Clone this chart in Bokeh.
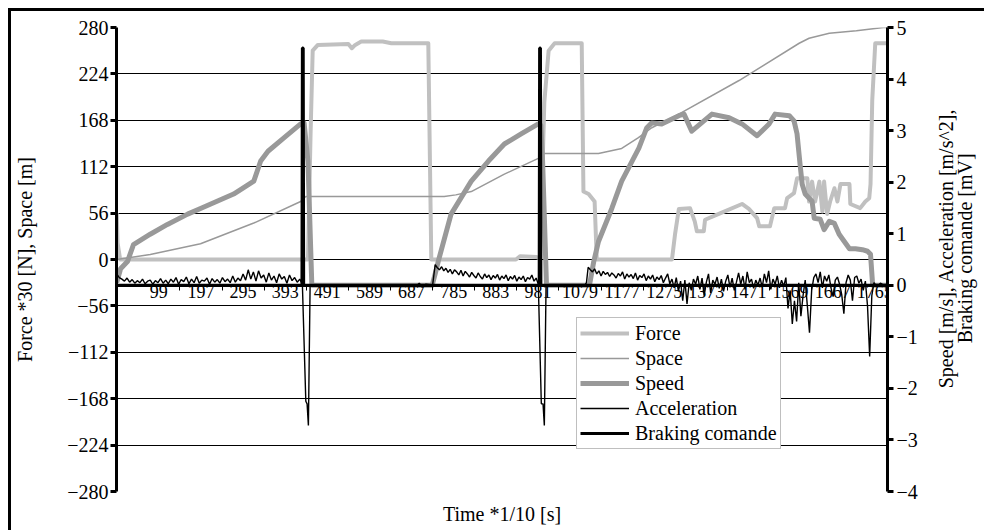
import math
from bokeh.plotting import figure
from bokeh.layouts import row
from bokeh.models import (Range1d, LinearAxis, FixedTicker, Legend, LegendItem,
                          Title, Grid)
from bokeh.core.properties import value
from bokeh.embed import file_html
from bokeh.resources import INLINE

# ---------------- data ----------------
n_samples = 1794
x_ticks = [99, 197, 295, 393, 491, 589, 687, 785, 883, 981, 1079, 1177,
           1275, 1373, 1471, 1569, 1667, 1765]
left_ticks = [-280, -224, -168, -112, -56, 0, 56, 112, 168, 224, 280]
right_ticks = [-4, -3, -2, -1, 0, 1, 2, 3, 4, 5]

# Force *30 [N] (left axis)
force_t = [1, 3, 9, 446, 452, 457, 469, 540, 548, 556, 570, 620, 640, 726, 733,
           930, 940, 978, 986, 996, 1006, 1020, 1083, 1087, 1099, 1113, 1118,
           1293, 1300, 1309, 1335, 1346, 1351, 1367, 1370, 1402, 1456, 1472,
           1491, 1496, 1521, 1531, 1556, 1561, 1577, 1584, 1608, 1612, 1619,
           1626, 1636, 1643, 1647, 1654, 1661, 1671, 1678, 1685, 1706, 1708,
           1731, 1743, 1752, 1755, 1759, 1766, 1794]
force_v = [56, 20, 0, 0, 150, 252, 259, 260, 255, 259, 263, 263, 261, 261, 0,
           0, 4, 3, 1, 190, 252, 261, 261, 82, 79, 70, 0,
           0, 30, 61, 62, 46, 34, 34, 48, 55, 67, 61,
           50, 40, 40, 62, 62, 74, 80, 98, 98, 70, 94,
           70, 94, 58, 94, 55, 70, 86, 70, 91, 91, 67,
           62, 70, 74, 91, 192, 261, 261]

# Space [m] (left axis)
space_t = [1, 79, 196, 320, 429, 441, 763, 790, 826, 903, 982, 994, 1122,
           1176, 1215, 1246, 1311, 1449, 1589, 1612, 1659, 1722, 1785, 1794]
space_v = [0, 6, 19, 44, 70, 76, 76, 78, 82, 103, 122, 128, 128,
           134, 147, 159, 176, 216, 261, 267, 273, 276, 280, 280]

# Speed [m/s] (right axis)
speed_t = [1, 10, 26, 40, 79, 119, 166, 196, 273, 320, 336, 353, 390, 429,
           437, 446, 455, 735, 745, 749, 779, 826, 866, 903, 943, 982, 988,
           992, 1001, 1101, 1111, 1122, 1153, 1176, 1216, 1234, 1246, 1269,
           1309, 1321, 1339, 1386, 1426, 1456, 1491, 1519, 1533, 1566, 1577,
           1584, 1591, 1596, 1603, 1619, 1624, 1638, 1647, 1659, 1671, 1682,
           1694, 1706, 1720, 1736, 1748, 1755, 1760, 1794]
speed_v = [0.05, 0.32, 0.46, 0.79, 0.99, 1.18, 1.38, 1.49, 1.77, 2.02, 2.41,
           2.60, 2.86, 3.13, 3.15, 2.40, 0.0, 0.0, 0.32, 0.46, 1.38, 2.02,
           2.41, 2.74, 2.94, 3.13, 3.10, 2.40, 0.0, 0.0, 0.46, 0.85, 1.49,
           2.02, 2.66, 3.05, 3.15, 3.13, 3.29, 3.32, 2.99, 3.32, 3.25, 3.13,
           2.90, 3.13, 3.32, 3.29, 3.19, 2.94, 2.35, 1.96, 1.77, 1.63, 1.30,
           1.28, 1.08, 1.24, 1.20, 0.99, 0.85, 0.71, 0.71, 0.69, 0.66, 0.60,
           0.0, 0.0]

# Braking comande [mV] (right axis)
brake_t = [1, 432, 433, 435, 436, 984, 985, 987, 988, 1794]
brake_v = [0, 0, 4.6, 4.6, 0, 0, 4.6, 4.6, 0, 0]

# Acceleration [m/s^2] (right axis), read in pieces
acc_a_start, acc_a_step = 1, 6
acc_a_vals = [0.22, 0.15, 0.12, 0.08, 0.14, 0.06, 0.11, 0.04, 0.09, 0.05,
              0.12, 0.03, 0.08, 0.10, 0.02, 0.09, 0.05, 0.13, 0.04, 0.10,
              0.03, 0.12, 0.06, 0.15, 0.02, 0.11, 0.07, 0.16, 0.03, 0.12,
              0.05, 0.17, 0.04, 0.10, 0.08, 0.14, 0.02, 0.13, 0.06, 0.11,
              0.04, 0.15, 0.07, 0.12, 0.05, 0.18, 0.06, 0.14, 0.09, 0.22,
              0.10, 0.30, 0.12, 0.26, 0.08, 0.28, 0.14, 0.20, 0.06, 0.24,
              0.10, 0.18, 0.05, 0.22, 0.12, 0.17, 0.04, 0.20, 0.09, 0.15,
              0.06, 0.12]
acc_spike1_t = [433, 441, 444, 447, 451, 700, 705, 712, 720, 736]
acc_spike1_v = [0.02, -2.25, -2.30, -2.72, 0.0, 0.0, 0.04, -0.04, 0.02, 0.0]
acc_b_start, acc_b_step = 742, 5
acc_b_vals = [0.40, 0.34, 0.30, 0.36, 0.28, 0.33, 0.25, 0.31, 0.22, 0.30,
              0.26, 0.20, 0.29, 0.18, 0.27, 0.22, 0.16, 0.25, 0.19, 0.14,
              0.24, 0.17, 0.12, 0.22, 0.15, 0.20, 0.11, 0.19, 0.14, 0.21,
              0.10, 0.18, 0.13, 0.20, 0.09, 0.17, 0.12, 0.19, 0.08, 0.16,
              0.11, 0.18, 0.07, 0.15, 0.12, 0.20, 0.08, 0.14]
acc_spike2_t = [982, 989, 993, 996, 1000, 1090, 1094]
acc_spike2_v = [0.02, -2.30, -2.30, -2.72, 0.0, 0.0, 0.05]
acc_c_start, acc_c_step = 1098, 5
acc_c_vals = [0.35, 0.30, 0.26, 0.32, 0.22, 0.28, 0.18, 0.27, 0.21, 0.25,
              0.17, 0.24, 0.20, 0.14, 0.23, 0.18, 0.26, 0.12, 0.22, 0.16,
              0.21, 0.13, 0.24, 0.10, 0.19, 0.15, 0.22, 0.09, 0.18, 0.12,
              0.20, 0.07, 0.16, 0.11, 0.19, 0.05, 0.14, 0.22, 0.03, 0.12,
              -0.05, 0.15, -0.12, 0.08, -0.30, 0.10, -0.36, 0.05, -0.10, 0.12,
              0.02, 0.18, -0.08, 0.14, -0.20, 0.06, 0.22, -0.15, 0.10, 0.02,
              0.16, -0.06, 0.12, -0.12, 0.08, 0.20, -0.04, 0.14, -0.10, 0.06,
              0.24, 0.02, 0.18, -0.08, 0.26, 0.05, 0.12, -0.06, 0.10, 0.00,
              0.14, -0.04, 0.22, 0.05, 0.28, -0.08, 0.12, 0.02, 0.18, -0.05,
              0.10, -0.02, 0.15, -0.45, -0.10, -0.75, -0.30, -0.70, 0.05, -0.60,
              -0.20, 0.10, -0.40, -0.92, -0.10, 0.15, 0.22, 0.05, 0.26, -0.05,
              0.18, 0.08, 0.20, -0.05, -0.22, 0.10, 0.16, 0.02, -0.18, -0.55,
              0.05, 0.20, 0.10, -0.30, 0.15, 0.18, 0.04, 0.12, -0.10, 0.08,
              -0.40, -1.38, -0.20]
acc_tail_t = [1763, 1770, 1778, 1786, 1794]
acc_tail_v = [0.05, -0.03, 0.04, 0.0, 0.02]

right_title = "Speed [m/s], Acceleration [m/s^2],\nBraking comande [mV]"

# ---------------- assemble acceleration ----------------
def seg(start, step, vals):
    return [start + i * step for i in range(len(vals))], list(vals)

acc_t, acc_v = [], []
for t, v in [seg(acc_a_start, acc_a_step, acc_a_vals), (acc_spike1_t, acc_spike1_v),
             seg(acc_b_start, acc_b_step, acc_b_vals), (acc_spike2_t, acc_spike2_v),
             seg(acc_c_start, acc_c_step, acc_c_vals), (acc_tail_t, acc_tail_v)]:
    acc_t += t
    acc_v += v

# ---------------- main figure ----------------
FONT = "Liberation Serif"
left_lo, left_hi = -280, 280
right_lo, right_hi = -4, 5
MAIN_W, SIDE_W, H = 922, 54, 522

p = figure(width=MAIN_W, height=H, output_backend="svg", toolbar_location=None,
           x_range=Range1d(0.5, n_samples + 0.5), y_range=Range1d(left_lo, left_hi),
           x_axis_location=None, y_axis_location=None,
           min_border_left=105, min_border_right=46, min_border_top=16,
           min_border_bottom=41, outline_line_color=None,
           background_fill_color="white", border_fill_color="white")
p.xgrid.visible = False
p.ygrid.visible = False
p.styles = {"border-left": "3px solid black", "border-top": "3px solid black"}
p.extra_y_ranges = {"right": Range1d(right_lo, right_hi)}

def style_y(ax):
    ax.axis_line_width = 3
    ax.axis_line_color = "black"
    ax.major_tick_in = 0
    ax.major_tick_out = 6
    ax.major_tick_line_width = 3
    ax.minor_tick_line_color = None
    ax.major_label_text_font = FONT
    ax.major_label_text_font_size = "20px"
    ax.major_label_text_color = "black"
    ax.major_label_standoff = 2
    ax.axis_label_text_font = FONT
    ax.axis_label_text_font_size = "20px"
    ax.axis_label_text_font_style = "normal"
    ax.axis_label_text_color = "black"

yl = LinearAxis(ticker=FixedTicker(ticks=left_ticks),
                axis_label="Force *30 [N], Space [m]")
style_y(yl)
yl.axis_label_standoff = 28
p.add_layout(yl, "left")

yr = LinearAxis(y_range_name="right", ticker=FixedTicker(ticks=right_ticks))
style_y(yr)
yr.major_label_standoff = 3
p.add_layout(yr, "right")

grid = Grid(dimension=1, ticker=yl.ticker, grid_line_color="black",
            grid_line_width=1, grid_line_alpha=1.0)
p.add_layout(grid)

x_cross = left_lo + (0 - right_lo) / (right_hi - right_lo) * (left_hi - left_lo)
mids = [(a + b) / 2 for a, b in zip(x_ticks[:-1], x_ticks[1:])]
xa = LinearAxis(ticker=FixedTicker(ticks=x_ticks, minor_ticks=mids),
                fixed_location=x_cross)
xa.axis_line_width = 3
xa.major_tick_line_color = None
xa.minor_tick_in = 0
xa.minor_tick_out = 5
xa.minor_tick_line_width = 1
xa.major_label_text_font = FONT
xa.major_label_text_font_size = "18px"
xa.major_label_text_color = "black"
xa.major_label_standoff = -6
p.add_layout(xa, "below")

p.add_layout(Title(text="Time *1/10 [s]", align="center", text_font=FONT,
                   text_font_size="20px", text_font_style="normal",
                   vertical_align="bottom", text_color="black", standoff=18), "below")

r_force = p.line(force_t, force_v, line_color="#c0c0c0", line_width=4, line_join="round")
r_space = p.line(space_t, space_v, line_color="#999999", line_width=1.5, line_join="round")
r_speed = p.line(speed_t, speed_v, line_color="#999999", line_width=5,
                 line_join="round", y_range_name="right")
r_acc = p.line(acc_t, acc_v, line_color="black", line_width=1.4, y_range_name="right")
r_brake = p.line(brake_t, brake_v, line_color="black", line_width=3,
                 y_range_name="right")

legend = Legend(items=[LegendItem(label="Force", renderers=[r_force]),
                       LegendItem(label="Space", renderers=[r_space]),
                       LegendItem(label="Speed", renderers=[r_speed]),
                       LegendItem(label="Acceleration", renderers=[r_acc]),
                       LegendItem(label="Braking comande", renderers=[r_brake])],
                location=(460, 42), glyph_width=49, glyph_height=24,
                label_height=24, spacing=1, padding=3, margin=0,
                label_standoff=6, label_text_font=FONT,
                label_text_font_size="20px", label_text_color="black",
                border_line_color="#808080", border_line_width=1,
                background_fill_color="white", background_fill_alpha=1.0)
p.add_layout(legend)

# ---------------- side strip with the right-hand axis title ----------------
SIDE_H = H - 3
p2 = figure(width=SIDE_W, height=H, output_backend="svg", toolbar_location=None,
            x_range=Range1d(0, SIDE_W), y_range=Range1d(0, SIDE_H),
            x_axis_location=None, y_axis_location=None, min_border=0,
            outline_line_color=None, background_fill_color="white",
            border_fill_color="white")
p2.styles = {"border-top": "3px solid black"}
p2.xgrid.visible = False
p2.ygrid.visible = False
p2.text(x=[25], y=[SIDE_H - 247], text=[right_title], angle=math.pi / 2,
        text_align="center", text_baseline="middle", text_font=value(FONT),
        text_font_size="20px", text_line_height=0.9, text_color="black")

layout = row(p, p2, spacing=0)
layout.styles = {"margin-left": "8px", "margin-top": "8px"}

open("out.html", "w").write(file_html(layout, INLINE))
